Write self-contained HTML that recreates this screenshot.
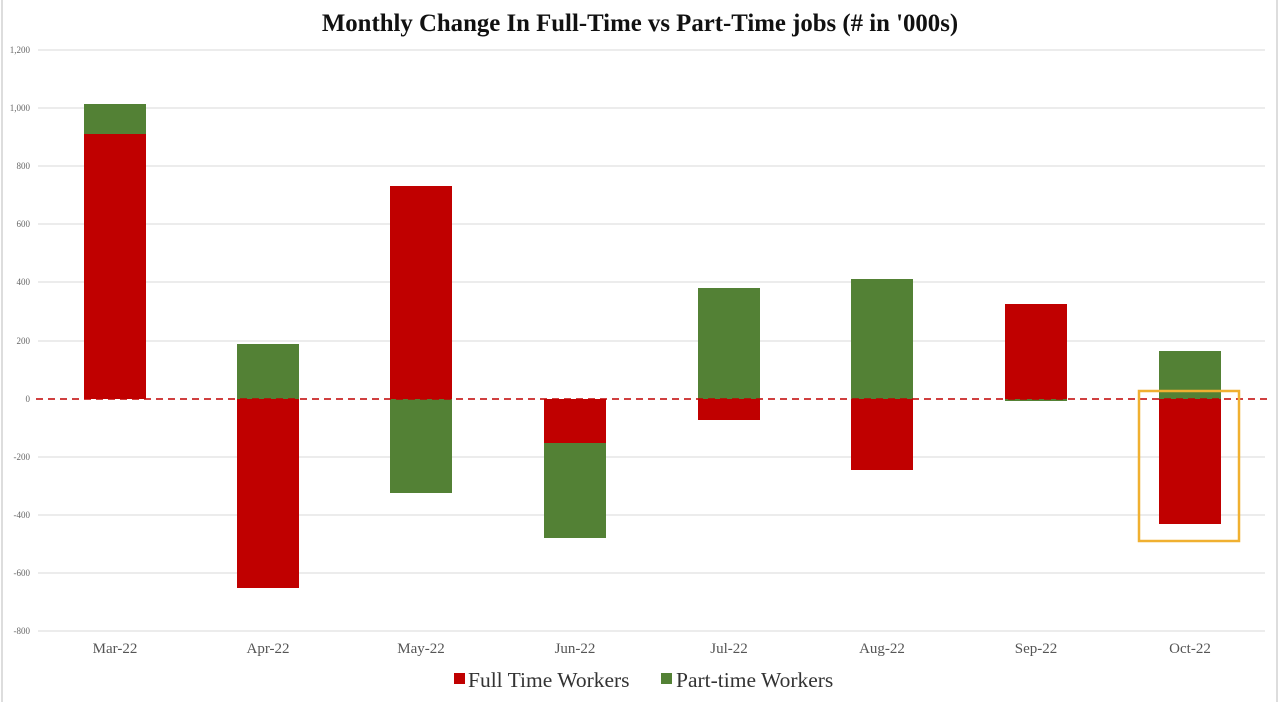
<!DOCTYPE html><html><head><style>body{margin:0;background:#fff}svg{display:block}</style></head><body>
<svg width="1280" height="702" xmlns="http://www.w3.org/2000/svg" font-family="Liberation Serif, serif">
<rect x="0" y="0" width="1280" height="702" fill="#fff"/>
<line x1="2" y1="0" x2="2" y2="702" stroke="#ddd" stroke-width="2"/>
<line x1="1277" y1="0" x2="1277" y2="702" stroke="#ddd" stroke-width="2"/>
<text x="640" y="31" text-anchor="middle" font-size="24.8" font-weight="bold" fill="#111">Monthly Change In Full-Time vs Part-Time jobs (# in '000s)</text>
<g stroke="#d9d9d9" stroke-width="1">
<line x1="38" y1="50" x2="1265" y2="50"/><line x1="38" y1="108" x2="1265" y2="108"/><line x1="38" y1="166" x2="1265" y2="166"/><line x1="38" y1="224" x2="1265" y2="224"/><line x1="38" y1="282" x2="1265" y2="282"/><line x1="38" y1="341" x2="1265" y2="341"/><line x1="38" y1="457" x2="1265" y2="457"/><line x1="38" y1="515" x2="1265" y2="515"/><line x1="38" y1="573" x2="1265" y2="573"/><line x1="38" y1="631" x2="1265" y2="631"/>
</g>
<g font-size="9" fill="#666" text-anchor="end">
<text x="30" y="53">1,200</text><text x="30" y="111">1,000</text><text x="30" y="169">800</text><text x="30" y="227">600</text><text x="30" y="285">400</text><text x="30" y="344">200</text><text x="30" y="402">0</text><text x="30" y="460">-200</text><text x="30" y="518">-400</text><text x="30" y="576">-600</text><text x="30" y="634">-800</text>
</g>
<g>
<rect x="84" y="134" width="62" height="265" fill="#c00000"/><rect x="84" y="104" width="62" height="30" fill="#538135"/>
<rect x="237" y="344" width="62" height="55" fill="#538135"/><rect x="237" y="399" width="62" height="189" fill="#c00000"/>
<rect x="390" y="186" width="62" height="213" fill="#c00000"/><rect x="390" y="399" width="62" height="94" fill="#538135"/>
<rect x="544" y="399" width="62" height="44" fill="#c00000"/><rect x="544" y="443" width="62" height="95" fill="#538135"/>
<rect x="698" y="288" width="62" height="111" fill="#538135"/><rect x="698" y="399" width="62" height="21" fill="#c00000"/>
<rect x="851" y="279" width="62" height="120" fill="#538135"/><rect x="851" y="399" width="62" height="71" fill="#c00000"/>
<rect x="1005" y="304" width="62" height="95" fill="#c00000"/><rect x="1005" y="399" width="62" height="2" fill="#538135"/>
<rect x="1159" y="351" width="62" height="48" fill="#538135"/><rect x="1159" y="399" width="62" height="125" fill="#c00000"/>
</g>
<line x1="36" y1="399" x2="1268" y2="399" stroke="#c00000" stroke-width="1.5" stroke-dasharray="7,5"/>
<rect x="1139" y="391" width="100" height="150" fill="none" stroke="#f0b030" stroke-width="2.5"/>
<g font-size="15" fill="#555" text-anchor="middle">
<text x="115" y="653">Mar-22</text><text x="268" y="653">Apr-22</text><text x="421" y="653">May-22</text><text x="575" y="653">Jun-22</text><text x="729" y="653">Jul-22</text><text x="882" y="653">Aug-22</text><text x="1036" y="653">Sep-22</text><text x="1190" y="653">Oct-22</text>
</g>
<rect x="454" y="673" width="11" height="11" fill="#c00000"/>
<text x="468" y="687" font-size="21.5" fill="#333">Full Time Workers</text>
<rect x="661" y="673" width="11" height="11" fill="#538135"/>
<text x="676" y="687" font-size="21.5" fill="#333">Part-time Workers</text>
</svg>
</body></html>
